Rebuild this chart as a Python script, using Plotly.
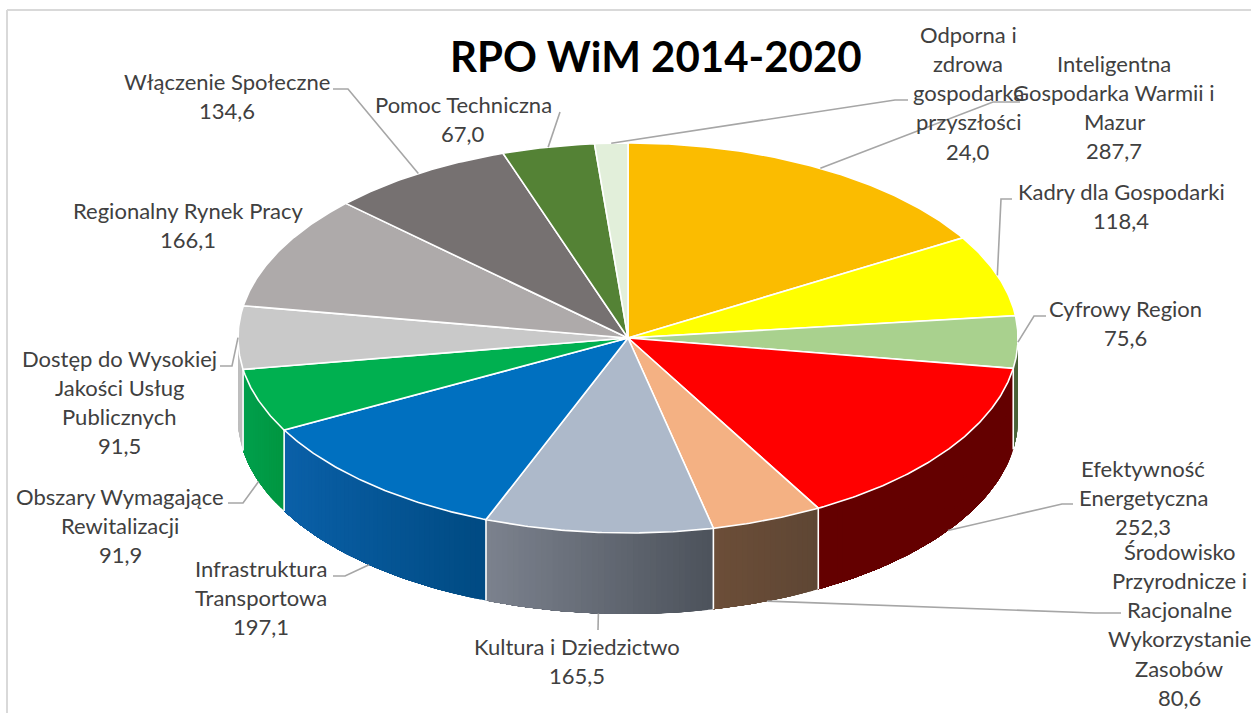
import math
import plotly.graph_objects as go

# ---------- data ----------
categories = ["Inteligentna Gospodarka Warmii i Mazur", "Kadry dla Gospodarki", "Cyfrowy Region",
              "Efektywność Energetyczna", "Środowisko Przyrodnicze i Racjonalne Wykorzystanie Zasobów",
              "Kultura i Dziedzictwo", "Infrastruktura Transportowa", "Obszary Wymagające Rewitalizacji",
              "Dostęp do Wysokiej Jakości Usług Publicznych", "Regionalny Rynek Pracy",
              "Włączenie Społeczne", "Pomoc Techniczna", "Odporna i zdrowa gospodarka przyszłości"]
values = [287.7, 118.4, 75.6, 252.3, 80.6, 165.5, 197.1, 91.9, 91.5, 166.1, 134.6, 67.0, 24.0]
value_labels = ["287,7", "118,4", "75,6", "252,3", "80,6", "165,5", "197,1", "91,9", "91,5", "166,1", "134,6", "67,0", "24,0"]
title_text = "RPO WiM 2014-2020"

# ---------- style ----------
top_colors = ["#fbbc00", "#ffff00", "#a9d18e", "#ff0000", "#f4b183", "#adb9ca", "#0070c0",
              "#00b050", "#c9c9c9", "#aeaaaa", "#767171", "#548235", "#e2efda"]
side_left = {2: (74, 99, 56), 3: (100, 0, 0), 4: (108, 78, 56), 5: (124, 130, 142), 6: (10, 96, 168),
             7: (0, 160, 76), 8: (190, 190, 190)}
side_right = {2: (74, 99, 56), 3: (100, 0, 0), 4: (94, 70, 52), 5: (76, 82, 91), 6: (0, 74, 130),
              7: (0, 150, 64), 8: (190, 190, 190)}
label_lines = [["Inteligentna", "Gospodarka Warmii i", "Mazur"], ["Kadry dla Gospodarki"], ["Cyfrowy Region"],
               ["Efektywność", "Energetyczna"],
               ["Środowisko", "Przyrodnicze i", "Racjonalne", "Wykorzystanie", "Zasobów"],
               ["Kultura i Dziedzictwo"], ["Infrastruktura", "Transportowa"], ["Obszary Wymagające", "Rewitalizacji"],
               ["Dostęp do Wysokiej", "Jakości Usług", "Publicznych"], ["Regionalny Rynek Pracy"],
               ["Włączenie Społeczne"], ["Pomoc Techniczna"], ["Odporna i", "zdrowa", "gospodarka", "przyszłości"]]
label_pos = [(1114, 63), (1121, 191), (1125, 308), (1143, 468), (1179, 551), (577, 646), (261, 568),
             (120, 496), (119, 358), (188, 210), (227, 81), (463, 104), (968, 34)]
leader_via = [[(1020, 102), (993, 102)], [(1012, 199), (1001, 199)], [(1046, 316), (1034, 316)],
              [(1073, 504), (1062, 504)], [(1121, 613), (1095, 613)], [(598, 630)], [(333, 576), (345, 576)],
              [(228, 503), (243, 503)], [(220, 366), (232, 366)], None, [(333, 89), (348, 89)], [(560, 112)],
              [(908, 100), (895, 100)]]
CX, CY, RX, RY, DEPTH = 628, 338, 390, 195, 81
LINE_H = 29.3
FONT = "Lato"
FS = 22

# ---------- geometry ----------
total = sum(values)
def pt(deg, drop=0):
    r = math.radians(deg)
    return CX + RX * math.sin(r), CY - RY * math.cos(r) + drop

edges = [0]
for v in values:
    edges.append(edges[-1] + v / total * 360)

fig = go.Figure()

# side wall: only the front half of the ellipse (90°..270°)
# each band runs to the end of its slice, so later bands paint over it and no seams show
for i in side_left:
    a0, a1 = max(edges[i], 90), min(edges[i + 1], 270)
    x_lo, x_hi = sorted((pt(a0)[0], pt(a1)[0]))
    n = max(2, int((a1 - a0) * 1.2))
    for k in range(n):
        s0 = a0 + (a1 - a0) * k / n
        s1 = a0 + (a1 - a0) * (k + 1) / n
        tm = ((pt((s0 + s1) / 2)[0] - x_lo) / (x_hi - x_lo)) if x_hi > x_lo else 0
        c = tuple(round(l + (r - l) * tm) for l, r in zip(side_left[i], side_right[i]))
        m = max(2, int(a1 - s0) + 2)
        arc = [s0 + (a1 - s0) * q / m for q in range(m + 1)]
        xs = [pt(a)[0] for a in arc] + [pt(a, DEPTH)[0] for a in reversed(arc)]
        ys = [pt(a)[1] for a in arc] + [pt(a, DEPTH)[1] for a in reversed(arc)]
        fig.add_trace(go.Scatter(x=xs + xs[:1], y=ys + ys[:1], mode="lines", fill="toself",
                                 fillcolor=f"rgb{c}", line=dict(width=0), hoverinfo="skip", showlegend=False))
# white seams between walls, drawn after all bands
for i in side_left:
    if 90 < edges[i] < 270:
        xa, ya = pt(edges[i])
        xb, yb = pt(edges[i], DEPTH)
        fig.add_trace(go.Scatter(x=[xa, xb], y=[ya, yb], mode="lines", line=dict(color="#ffffff", width=1.6),
                                 hoverinfo="skip", showlegend=False))

# top face
for i, cat in enumerate(categories):
    a0, a1 = edges[i], edges[i + 1]
    n = max(3, int((a1 - a0) * 2))
    pts = [pt(a0 + (a1 - a0) * k / n) for k in range(n + 1)]
    xs = [CX] + [p[0] for p in pts] + [CX]
    ys = [CY] + [p[1] for p in pts] + [CY]
    fig.add_trace(go.Scatter(x=xs, y=ys, mode="lines", fill="toself", fillcolor=top_colors[i],
                             line=dict(color="#ffffff", width=1.6), name=cat, text=value_labels[i],
                             hoverinfo="name+text", showlegend=False))

# leader lines and labels
annotations = [dict(x=656, y=56, text=f"<b>{title_text}</b>", showarrow=False, xref="x", yref="y",
                    font=dict(family=FONT, size=42, color="#000000"), xanchor="center", yanchor="middle")]
for i, via in enumerate(leader_via):
    mid = (edges[i] + edges[i + 1]) / 2
    if via is not None:
        drop = DEPTH if 100 < mid < 265 else 0
        ax, ay = pt(mid, drop)
        fig.add_trace(go.Scatter(x=[p[0] for p in via] + [ax], y=[p[1] for p in via] + [ay], mode="lines",
                                 line=dict(color="#a6a6a6", width=1.6), hoverinfo="skip", showlegend=False))
    lx, ly = label_pos[i]
    for j, line in enumerate(label_lines[i] + [value_labels[i]]):
        annotations.append(dict(x=lx, y=ly + j * LINE_H, text=line, showarrow=False, xref="x", yref="y",
                                font=dict(family=FONT, size=FS, color="#404040"),
                                xanchor="center", yanchor="middle"))

# chart frame (left and top edges fall inside the picture)
frame = [dict(type="line", xref="x", yref="y", x0=7, x1=7, y0=10, y1=713, line=dict(color="#d9d9d9", width=2)),
         dict(type="line", xref="x", yref="y", x0=7, x1=1251, y0=10, y1=10, line=dict(color="#d9d9d9", width=2))]

fig.update_layout(width=1251, height=713, margin=dict(l=0, r=0, t=0, b=0), paper_bgcolor="#ffffff",
                  plot_bgcolor="#ffffff", showlegend=False, annotations=annotations, shapes=frame,
                  xaxis=dict(range=[0, 1251], visible=False, fixedrange=True),
                  yaxis=dict(range=[713, 0], visible=False, fixedrange=True))
fig.write_html("out.html", config={"displayModeBar": False},
               post_script="document.body.style.margin='0';document.body.style.overflow='hidden';")
